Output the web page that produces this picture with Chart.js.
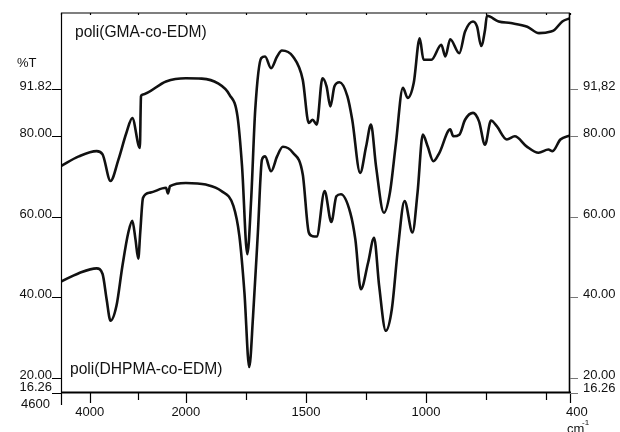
<!DOCTYPE html>
<html>
<head>
<meta charset="utf-8">
<script src="https://cdn.jsdelivr.net/npm/chart.js@4"></script>
<style>
  body { margin: 0; background: #fff; }
</style>
</head>
<body>
<canvas id="ir" width="620" height="432"></canvas>
<script>
const gmaWavenumbers = [4600, 4229, 3857, 3734, 3569, 3404, 3239, 3115, 2958, 2934, 2909, 2413, 2000, 1934, 1868, 1818, 1785, 1766, 1744, 1728, 1711, 1686, 1670, 1645, 1620, 1600, 1554, 1513, 1488, 1472, 1455, 1431, 1414, 1398, 1381, 1360, 1327, 1307, 1274, 1249, 1229, 1208, 1175, 1150, 1125, 1096, 1076, 1051, 1026, 1010, 977, 936, 919, 899, 861, 837, 804, 787, 770, 754, 746, 697, 647, 578, 529, 479, 465, 432, 400];
const gmaTransmittance = [72.6, 75.0, 76.3, 75.5, 68.9, 74.2, 80.8, 84.5, 77.1, 89.9, 90.3, 93.6, 94.4, 94.3, 93.2, 90.3, 85.0, 72.6, 50.7, 64.3, 86.6, 99.4, 99.8, 96.9, 99.8, 101.3, 99.8, 94.0, 83.3, 84.1, 82.9, 94.4, 92.4, 87.4, 92.4, 93.4, 89.9, 84.1, 70.9, 77.5, 82.9, 72.6, 61.0, 66.0, 78.3, 92.0, 89.5, 93.2, 104.3, 99.0, 99.0, 102.7, 99.8, 104.1, 100.6, 106.0, 108.5, 107.2, 102.4, 106.4, 109.9, 108.5, 108.1, 107.2, 105.6, 106.0, 106.4, 108.5, 109.3];

const dhpmaWavenumbers = [4600, 4229, 3857, 3734, 3651, 3569, 3445, 3321, 3198, 3115, 3049, 2991, 2950, 2892, 2744, 2413, 2372, 2330, 2000, 1917, 1852, 1802, 1777, 1756, 1736, 1720, 1700, 1683, 1670, 1645, 1620, 1596, 1554, 1513, 1488, 1472, 1455, 1422, 1394, 1373, 1354, 1315, 1294, 1271, 1241, 1216, 1195, 1167, 1142, 1117, 1089, 1056, 1035, 1013, 993, 969, 944, 899, 886, 861, 837, 804, 779, 754, 729, 705, 663, 630, 581, 531, 490, 473, 440, 400];
const dhpmaTransmittance = [43.9, 46.0, 47.2, 45.8, 39.6, 34.2, 37.9, 47.8, 56.1, 59.0, 54.4, 49.6, 56.1, 64.7, 66.0, 67.2, 65.8, 67.6, 68.4, 68.0, 66.4, 62.7, 55.2, 41.2, 22.7, 35.4, 56.1, 74.2, 75.0, 71.3, 75.0, 77.4, 75.9, 70.5, 56.1, 55.2, 55.1, 66.4, 58.7, 65.1, 65.6, 61.0, 54.4, 42.0, 48.6, 54.8, 42.9, 31.7, 37.1, 51.9, 63.9, 56.1, 66.0, 80.4, 77.5, 73.8, 75.9, 81.7, 80.0, 80.4, 84.1, 85.8, 83.7, 77.9, 83.9, 82.5, 79.2, 80.0, 77.5, 75.9, 76.7, 76.3, 79.2, 80.2];

const seriesNames = ['poli(GMA-co-EDM)', 'poli(DHPMA-co-EDM)'];

const xMajorTicks = [4600, 4000, 2000, 1500, 1000, 400];
const xMajorLabels = ['4600', '4000', '2000', '1500', '1000', '400'];
const xMinorTicks = [3000, 1750, 1250, 750, 500];
const yTicks = [16.26, 20, 40, 60, 80, 91.82];
const yLeftLabels = ['16.26', '20.00', '40.00', '60.00', '80.00', '91.82'];
const yRightLabels = ['16.26', '20.00', '40.00', '60.00', '80.00', '91,82'];

// above 2000 cm-1 the spectrometer compresses the scale 5x
const toAxis = w => (w > 2000 ? 2000 + (w - 2000) / 5 : w);
const toPoints = (xs, ys) => xs.map((w, i) => ({ x: toAxis(w), y: ys[i] }));

const FONT = "'Liberation Sans', Arial, sans-serif";

const framePlugin = {
    id: 'frame',
    afterDatasetsDraw(chart) {
        const { ctx, chartArea: a, scales: { x, y } } = chart;
        ctx.save();
        ctx.strokeStyle = '#000';
        ctx.fillStyle = '#111';

        ctx.lineWidth = 1.2;
        ctx.beginPath();
        ctx.moveTo(a.left + 0.5, a.bottom);
        ctx.lineTo(a.left + 0.5, a.top);
        ctx.lineTo(a.right, a.top);
        ctx.stroke();
        ctx.lineWidth = 1.6;
        ctx.beginPath();
        ctx.moveTo(a.right - 0.5, a.top);
        ctx.lineTo(a.right - 0.5, a.bottom);
        ctx.stroke();
        ctx.lineWidth = 2.2;
        ctx.beginPath();
        ctx.moveTo(a.left, a.bottom - 0.5);
        ctx.lineTo(a.right + 1, a.bottom - 0.5);
        ctx.stroke();

        // x ticks
        ctx.lineWidth = 1.2;
        xMajorTicks.forEach((w, i) => {
            const px = Math.round(x.getPixelForValue(toAxis(w))) + 0.5;
            const len = i === 0 ? 12 : 10;
            ctx.beginPath();
            ctx.moveTo(px, a.bottom);
            ctx.lineTo(px, a.bottom + len);
            ctx.moveTo(px, a.top);
            ctx.lineTo(px, a.top + 2);
            ctx.stroke();
        });
        xMinorTicks.forEach(w => {
            const px = Math.round(x.getPixelForValue(toAxis(w))) + 0.5;
            ctx.beginPath();
            ctx.moveTo(px, a.bottom);
            ctx.lineTo(px, a.bottom + 7);
            ctx.moveTo(px, a.top);
            ctx.lineTo(px, a.top + 2);
            ctx.stroke();
        });

        ctx.font = '13px ' + FONT;
        ctx.textBaseline = 'middle';
        xMajorLabels.forEach((lab, i) => {
            const px = x.getPixelForValue(toAxis(xMajorTicks[i]));
            if (i === 0) {
                ctx.textAlign = 'right';
                ctx.fillText(lab, px - 11, a.bottom + 11);
            } else if (i === xMajorLabels.length - 1) {
                ctx.textAlign = 'left';
                ctx.fillText(lab, px - 4, a.bottom + 19);
            } else {
                ctx.textAlign = 'center';
                ctx.fillText(lab, px, a.bottom + 19);
            }
        });
        ctx.textAlign = 'left';
        ctx.fillText('cm', 567, 429);
        ctx.font = '8px ' + FONT;
        ctx.fillText('-1', 582, 423);

        // y ticks, both sides
        ctx.font = '13px ' + FONT;
        yTicks.forEach((v, i) => {
            const py = Math.round(y.getPixelForValue(v)) + 0.5;
            ctx.strokeStyle = '#000';
            ctx.lineWidth = 1;
            ctx.beginPath();
            ctx.moveTo(a.left - 9, py);
            ctx.lineTo(a.left, py);
            ctx.stroke();
            ctx.strokeStyle = '#777';
            ctx.beginPath();
            ctx.moveTo(a.right, py);
            ctx.lineTo(a.right + 8, py);
            ctx.stroke();
            const up = i === 0 ? 6 : 3;
            ctx.textAlign = 'right';
            ctx.fillText(yLeftLabels[i], a.left - 9, py - up);
            ctx.textAlign = 'left';
            ctx.fillText(yRightLabels[i], a.right + 13, py - (i === 0 ? 5 : 3));
        });
        ctx.textAlign = 'left';
        ctx.fillText('%T', 17, 63);

        ctx.font = '15.6px ' + FONT;
        ctx.fillText(seriesNames[0], 75, 33);
        ctx.fillText(seriesNames[1], 70, 370);
        ctx.restore();
    }
};

const irChart = new Chart(document.getElementById('ir'), {
    type: 'line',
    data: {
        datasets: [
            {
                label: seriesNames[0],
                data: toPoints(gmaWavenumbers, gmaTransmittance),
                borderColor: '#111',
                borderWidth: 2.6,
                pointRadius: 0,
                cubicInterpolationMode: 'monotone',
                fill: false
            },
            {
                label: seriesNames[1],
                data: toPoints(dhpmaWavenumbers, dhpmaTransmittance),
                borderColor: '#111',
                borderWidth: 2.6,
                pointRadius: 0,
                cubicInterpolationMode: 'monotone',
                fill: false
            }
        ]
    },
    options: {
        responsive: false,
        animation: false,
        layout: { padding: { left: 61, right: 50, top: 13, bottom: 39 } },
        plugins: { legend: { display: false }, tooltip: { enabled: false } },
        scales: {
            x: { type: 'linear', reverse: true, min: toAxis(400), max: toAxis(4600), display: false },
            y: { type: 'linear', min: 16.26, max: 110.6, display: false }
        }
    },
    plugins: [framePlugin]
});
</script>
</body>
</html>
